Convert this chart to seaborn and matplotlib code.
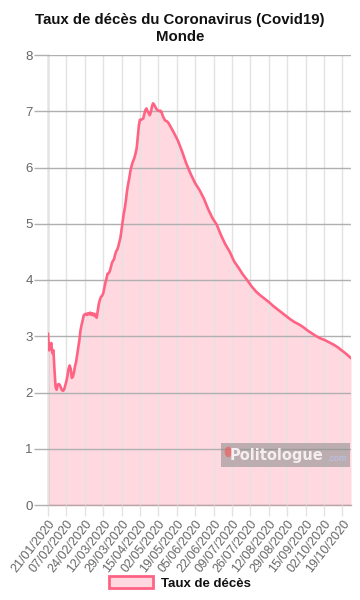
import matplotlib
matplotlib.use("Agg")
import matplotlib.pyplot as plt
import matplotlib.dates as mdates
from matplotlib.patches import Patch
import seaborn as sns
import pandas as pd

# ---- data ----
start_date = "2020-01-21"
rate_daily = [
    3.05, 2.75, 2.80, 2.88, 2.70, 2.75, 2.40, 2.10, 2.05, 2.14,
    2.15, 2.13, 2.08, 2.04, 2.03, 2.06, 2.13, 2.20, 2.30, 2.42,
    2.48, 2.42, 2.26, 2.28, 2.36, 2.47, 2.55, 2.68, 2.80, 2.93,
    3.10, 3.20, 3.28, 3.37, 3.39, 3.40, 3.38, 3.41, 3.39, 3.42,
    3.38, 3.41, 3.37, 3.40, 3.35, 3.33, 3.45, 3.58, 3.65, 3.70,
    3.72, 3.76, 3.86, 3.95, 4.02, 4.11, 4.12, 4.15, 4.22, 4.30,
    4.34, 4.37, 4.45, 4.51, 4.54, 4.60, 4.68, 4.76, 4.90, 5.05,
    5.18, 5.28, 5.42, 5.58, 5.70, 5.80, 5.92, 6.01, 6.08, 6.13,
    6.18, 6.26, 6.35, 6.55, 6.75, 6.85, 6.85, 6.86, 6.87, 6.95,
    7.02, 7.05, 7.00, 6.97, 6.93, 6.98, 7.08, 7.14, 7.12, 7.08,
    7.05, 7.02, 7.01, 7.00, 7.01, 6.98, 6.92, 6.88, 6.84, 6.83,
    6.82, 6.80,
]
late_dates = [
    "2020-05-12", "2020-05-16", "2020-05-20", "2020-05-24", "2020-05-28",
    "2020-06-01", "2020-06-05", "2020-06-09", "2020-06-13", "2020-06-17",
    "2020-06-21", "2020-06-25", "2020-06-29", "2020-07-03", "2020-07-07",
    "2020-07-11", "2020-07-15", "2020-07-19", "2020-07-23", "2020-07-27",
    "2020-07-31", "2020-08-04", "2020-08-08", "2020-08-12", "2020-08-16",
    "2020-08-20", "2020-08-24", "2020-08-28", "2020-09-01", "2020-09-05",
    "2020-09-09", "2020-09-13", "2020-09-17", "2020-09-21", "2020-09-25",
    "2020-09-29", "2020-10-03", "2020-10-07", "2020-10-11", "2020-10-15",
    "2020-10-19", "2020-10-23", "2020-10-27",
]
late_rate = [
    6.77, 6.63, 6.48, 6.28, 6.06, 5.88, 5.72, 5.60, 5.45, 5.26,
    5.10, 4.98, 4.79, 4.63, 4.50, 4.33, 4.22, 4.10, 4.00, 3.89,
    3.80, 3.73, 3.67, 3.61, 3.54, 3.48, 3.42, 3.36, 3.30, 3.25,
    3.21, 3.16, 3.10, 3.05, 3.00, 2.96, 2.93, 2.89, 2.85, 2.80,
    2.74, 2.68, 2.61,
]
tick_dates = ["2020-01-21", "2020-02-07", "2020-02-24", "2020-03-12",
              "2020-03-29", "2020-04-15", "2020-05-02", "2020-05-19",
              "2020-06-05", "2020-06-22", "2020-07-09", "2020-07-26",
              "2020-08-12", "2020-08-29", "2020-09-15", "2020-10-02",
              "2020-10-19"]
y_ticks = [0, 1, 2, 3, 4, 5, 6, 7, 8]
title_lines = ["Taux de décès du Coronavirus (Covid19)", "Monde"]
series_label = "Taux de décès"

# ---- build frame ----
daily_dates = pd.date_range(start_date, periods=len(rate_daily), freq="D")
df = pd.DataFrame({
    "date": list(daily_dates) + list(pd.to_datetime(late_dates)),
    "rate": rate_daily + late_rate,
})

sns.set_theme(style="white")
plt.rcParams["font.family"] = ["Liberation Sans", "DejaVu Sans"]

line_c = "#ff6384"
fill_c = "#ffd8e0"
grid_c = "#e3e3e3"
hgrid_c = "#b0b0b0"
text_c = "#666666"

fig = plt.figure(figsize=(3.6, 6.0), dpi=100)
ax = fig.add_axes([48 / 360, 1 - 505 / 600, 303 / 360, 450 / 600])

ax.fill_between(df["date"], df["rate"], 0, color=fill_c, lw=0, zorder=1)
sns.lineplot(data=df, x="date", y="rate", ax=ax, color=line_c, lw=1.9,
             zorder=3, legend=False)

ax.set_xlim(df["date"].iloc[0], df["date"].iloc[-1])
ax.set_ylim(0, 8)
ax.set_yticks(y_ticks)
ax.set_xticks(pd.to_datetime(tick_dates))
ax.xaxis.set_major_formatter(mdates.DateFormatter("%d/%m/%Y"))

ax.xaxis.grid(True, color=grid_c, lw=1, zorder=0)
ax.yaxis.grid(True, color=hgrid_c, lw=1, zorder=2)
ax.set_axisbelow(False)
for s in ["top", "right"]:
    ax.spines[s].set_visible(False)
ax.spines["left"].set_color("#999999")
ax.spines["bottom"].set_color("#c0a0a8")
ax.spines["left"].set_linewidth(1)
ax.spines["bottom"].set_linewidth(1)

ax.tick_params(axis="y", length=10, width=1, color=hgrid_c, labelsize=9.5,
               labelcolor=text_c, pad=1, left=True)
ax.tick_params(axis="x", length=8, width=1, color=grid_c, labelsize=9,
               labelcolor=text_c, pad=1, bottom=True)
for lbl in ax.get_xticklabels():
    lbl.set_rotation(52)
    lbl.set_ha("right")
    lbl.set_va("top")
    lbl.set_rotation_mode("anchor")
ax.set_xlabel("")
ax.set_ylabel("")

fig.text(0.5, 1 - 20 / 600, title_lines[0], ha="center", va="center",
         fontsize=10.8, fontweight="bold", color="#111111")
fig.text(0.5, 1 - 37 / 600, title_lines[1], ha="center", va="center",
         fontsize=10.8, fontweight="bold", color="#111111")

# watermark
ax.add_patch(plt.Rectangle((0.571, 0.085), 0.426, 0.053, transform=ax.transAxes,
                           facecolor="#8a8a8a", alpha=0.55, lw=0, zorder=5))
ax.add_patch(plt.Circle((0.595, 0.118), 0.012, transform=ax.transAxes,
                        facecolor="#e86a6a", alpha=0.8, lw=0, zorder=6))
ax.text(0.600, 0.110, "Politologue", transform=ax.transAxes, ha="left",
        va="center", fontsize=10.5, fontweight="bold", color="#f4eef0",
        family="DejaVu Sans", zorder=7)
ax.text(0.985, 0.104, ".com", transform=ax.transAxes, ha="right",
        va="center", fontsize=6.5, color="#b8c4f0", zorder=8)

handle = Patch(facecolor=fill_c, edgecolor=line_c, linewidth=2)
leg = fig.legend([handle], [series_label], loc="center",
                 bbox_to_anchor=(0.5, 1 - 583 / 600), frameon=False,
                 handlelength=3.3, handleheight=1.0, handletextpad=0.6,
                 prop={"size": 9.5, "weight": "bold"})
for t in leg.get_texts():
    t.set_color("#111111")

fig.savefig("out.png", dpi=100)
